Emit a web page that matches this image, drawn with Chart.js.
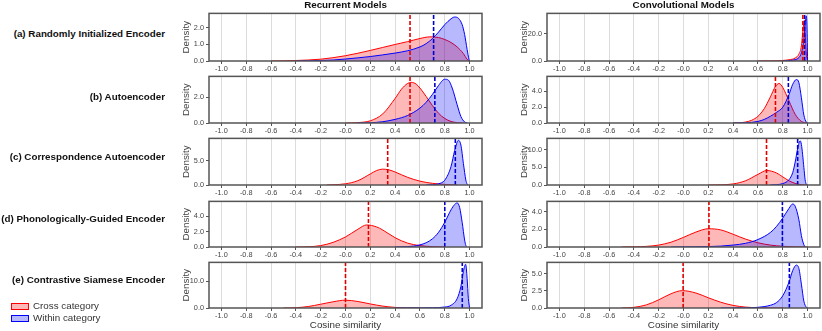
<!DOCTYPE html>
<html>
<head>
<meta charset="utf-8">
<script src="https://cdn.jsdelivr.net/npm/chart.js@4.4.0/dist/chart.umd.min.js"></script>
<style>
  body { margin: 0; width: 822px; height: 331px; background: #fff; position: relative; overflow: hidden;
         font-family: "Liberation Sans", Arial, sans-serif; }
  canvas { position: absolute; }
  .txt { position: absolute; white-space: nowrap; color: #222; line-height: 1; }
  .bold { font-weight: bold; font-size: 9.8px; color: #111; }
  .swatch { position: absolute; width: 16px; height: 5px; }
</style>
</head>
<body>
<script>
// titles / categories
const modelTypes = ["Recurrent Models", "Convolutional Models"];
const encoderNames = [
  "(a) Randomly Initialized Encoder",
  "(b) Autoencoder",
  "(c) Correspondence Autoencoder",
  "(d) Phonologically-Guided Encoder",
  "(e) Contrastive Siamese Encoder"
];
const seriesNames = ["Cross category", "Within category"];
const xTickValues = [-1.0, -0.8, -0.6, -0.4, -0.2, 0.0, 0.2, 0.4, 0.6, 0.8, 1.0];
const xTickLabels = ["-1.0", "-0.8", "-0.6", "-0.4", "-0.2", "-0.0", "0.2", "0.4", "0.6", "0.8", "1.0"];

// density curves: [cosine, density]
const recRandCross = [[-0.6,0],[-0.5,0.01],[-0.4,0.03],[-0.3,0.06],[-0.2,0.11],[-0.1,0.2],[0,0.32],[0.1,0.47],[0.2,0.64],[0.3,0.82],[0.4,1.0],[0.5,1.17],[0.6,1.36],[0.68,1.46],[0.75,1.42],[0.8,1.3],[0.85,1.12],[0.9,0.85],[0.95,0.45],[0.98,0.1],[1.0,0]];
const recRandWithin = [[-0.4,0],[-0.3,0.01],[-0.2,0.03],[-0.1,0.06],[0,0.12],[0.1,0.19],[0.2,0.27],[0.3,0.37],[0.4,0.48],[0.5,0.62],[0.6,0.85],[0.65,1.05],[0.7,1.35],[0.75,1.75],[0.8,2.2],[0.85,2.55],[0.88,2.66],[0.91,2.58],[0.94,2.2],[0.96,1.6],[0.98,0.7],[0.995,0.1],[1.0,0]];
const convRandCross = [[0.6,0],[0.7,0.1],[0.8,0.4],[0.85,0.9],[0.9,2.2],[0.93,5],[0.95,11],[0.96,20],[0.97,28],[0.975,30],[0.98,22],[0.99,5],[1.0,0]];
const convRandWithin = [[0.8,0],[0.85,0.3],[0.9,1.0],[0.93,2.5],[0.95,6],[0.97,16],[0.98,27],[0.99,33],[0.995,25],[1.0,0]];

const recAECross = [[0.0,0],[0.1,0.03],[0.2,0.17],[0.3,0.7],[0.4,1.9],[0.45,2.6],[0.5,3.05],[0.53,3.14],[0.57,3.0],[0.6,2.7],[0.65,2.05],[0.7,1.35],[0.75,0.75],[0.8,0.35],[0.85,0.12],[0.9,0.03],[0.95,0]];
const recAEWithin = [[0.1,0],[0.2,0.02],[0.3,0.1],[0.4,0.28],[0.5,0.58],[0.6,1.15],[0.65,1.6],[0.7,2.2],[0.75,2.9],[0.8,3.38],[0.83,3.3],[0.86,2.7],[0.9,1.4],[0.93,0.5],[0.96,0.08],[0.98,0]];
const convAECross = [[0.4,0],[0.45,0.03],[0.5,0.12],[0.55,0.35],[0.6,0.85],[0.65,1.8],[0.7,3.3],[0.74,4.6],[0.77,5.0],[0.8,4.5],[0.85,2.8],[0.9,1.1],[0.95,0.2],[1.0,0]];
const convAEWithin = [[0.4,0],[0.5,0.03],[0.6,0.2],[0.65,0.45],[0.7,0.85],[0.75,1.35],[0.8,2.0],[0.85,3.6],[0.88,4.9],[0.91,5.5],[0.93,5.1],[0.95,3.2],[0.97,1.0],[0.99,0.1],[1.0,0]];

const recCACross = [[-0.15,0],[-0.1,0.05],[0,0.25],[0.1,0.9],[0.2,2.3],[0.25,3.0],[0.3,3.3],[0.35,3.15],[0.4,2.7],[0.5,1.6],[0.6,0.8],[0.7,0.35],[0.8,0.12],[0.85,0.05],[0.9,0]];
const recCAWithin = [[0.65,0],[0.7,0.05],[0.75,0.25],[0.8,1.0],[0.85,3.8],[0.88,7.2],[0.91,9.3],[0.93,8.3],[0.95,4.5],[0.97,1.0],[0.98,0.2],[0.99,0]];
const convCACross = [[0.2,0],[0.3,0.05],[0.4,0.3],[0.5,1.2],[0.6,3.0],[0.67,4.1],[0.75,3.4],[0.8,2.3],[0.85,1.2],[0.9,0.45],[0.95,0.1],[1.0,0]];
const convCAWithin = [[0.7,0],[0.75,0.1],[0.8,0.4],[0.85,1.5],[0.88,3.5],[0.9,6.5],[0.92,10.3],[0.94,12.5],[0.95,11.5],[0.97,5],[0.98,1.5],[0.99,0.2],[1.0,0]];

const recPGCross = [[-0.4,0],[-0.3,0.03],[-0.2,0.18],[-0.1,0.6],[0,1.3],[0.1,2.3],[0.17,2.85],[0.25,2.6],[0.3,2.2],[0.4,1.2],[0.5,0.5],[0.6,0.18],[0.7,0.05],[0.8,0]];
const recPGWithin = [[0.4,0],[0.5,0.05],[0.55,0.12],[0.6,0.28],[0.65,0.55],[0.7,1.05],[0.75,1.9],[0.8,3.2],[0.85,4.8],[0.88,5.5],[0.9,5.7],[0.92,5.1],[0.94,3.2],[0.96,0.9],[0.97,0.2],[0.98,0]];
const convPGCross = [[-0.5,0],[-0.4,0.02],[-0.3,0.07],[-0.2,0.22],[-0.1,0.55],[0,1.1],[0.1,1.7],[0.2,2.08],[0.3,1.95],[0.4,1.45],[0.5,0.9],[0.6,0.48],[0.7,0.22],[0.8,0.08],[0.9,0.02],[1.0,0]];
const convPGWithin = [[-0.1,0],[0.1,0.02],[0.2,0.05],[0.3,0.1],[0.4,0.22],[0.5,0.42],[0.6,0.85],[0.7,1.65],[0.75,2.35],[0.8,3.3],[0.85,4.4],[0.88,4.9],[0.9,4.65],[0.93,3.1],[0.95,1.3],[0.97,0.25],[0.98,0]];

const recCSCross = [[-0.5,0],[-0.4,0.1],[-0.3,0.55],[-0.2,1.4],[-0.1,2.3],[0,2.9],[0.1,2.4],[0.2,1.5],[0.3,0.7],[0.4,0.22],[0.5,0.05],[0.6,0]];
const recCSWithin = [[0.4,0],[0.5,0.02],[0.6,0.05],[0.7,0.1],[0.8,0.35],[0.85,1.0],[0.9,3.5],[0.93,8],[0.95,13.5],[0.968,16.2],[0.98,11],[0.99,3.5],[1.0,0]];
const convCSCross = [[-0.5,0],[-0.4,0.1],[-0.3,0.45],[-0.2,1.2],[-0.1,2.1],[-0.01,2.55],[0.1,2.2],[0.2,1.5],[0.3,0.85],[0.4,0.38],[0.5,0.13],[0.6,0.04],[0.7,0.01],[0.8,0]];
const convCSWithin = [[0.3,0],[0.5,0.02],[0.6,0.1],[0.7,0.4],[0.75,0.8],[0.8,1.8],[0.85,3.8],[0.88,5.5],[0.91,6.3],[0.93,5.8],[0.95,3.5],[0.97,1.0],[0.99,0.1],[1.0,0]];

// mean lines (dashed)
const recCrossMeans = [0.52, 0.52, 0.34, 0.185, 0.0];
const recWithinMeans = [0.71, 0.72, 0.885, 0.8, 0.941];
const convCrossMeans = [0.962, 0.741, 0.669, 0.205, -0.003];
const convWithinMeans = [0.976, 0.845, 0.92, 0.797, 0.853];

// y axis ranges and ticks
const recYMax = [2.88, 3.6, 9.7, 5.9, 16.9];
const convYMax = [34.8, 5.9, 13.2, 5.2, 6.7];
const recYTicks = [[0, 1, 2], [0, 2], [0, 5], [0, 2, 4], [0, 10]];
const convYTicks = [[0, 20], [0, 2, 4], [0, 5, 10], [0, 2, 4], [0, 2.5, 5]];

const recCross = [recRandCross, recAECross, recCACross, recPGCross, recCSCross];
const recWithin = [recRandWithin, recAEWithin, recCAWithin, recPGWithin, recCSWithin];
const convCross = [convRandCross, convAECross, convCACross, convPGCross, convCSCross];
const convWithin = [convRandWithin, convAEWithin, convCAWithin, convPGWithin, convCSWithin];

// layout (pixels)
const plotLeft = [209, 547];
const plotRight = [482, 820];
const plotTop = [10, 73, 135, 198, 259];
const plotBottom = [61, 123, 185, 247, 308];
const labelY = [34, 96.7, 156.7, 219, 280];

const RED = "rgba(255,0,0,0.28)";
const BLUE = "rgba(0,0,255,0.28)";

const framePlugin = {
  id: "frame",
  afterDraw(chart) {
    const { ctx, chartArea: a } = chart;
    ctx.save();
    ctx.strokeStyle = "#555";
    ctx.lineWidth = 1.5;
    ctx.strokeRect(a.left, a.top, a.right - a.left, a.bottom - a.top);
    ctx.restore();
  }
};

function addText(text, cls, style) {
  const d = document.createElement("div");
  d.className = "txt " + cls;
  d.textContent = text;
  Object.assign(d.style, style);
  document.body.appendChild(d);
  return d;
}

function toXY(pts) {
  return pts.map(([x, y]) => ({ x, y }));
}

function makePanel(row, col, crossPts, withinPts, crossMean, withinMean, yMax, yTicks) {
  const yAxisW = 29, xAxisH = 14, padTop = 3, padRight = 2;
  const left = plotLeft[col] - yAxisW;
  const top = plotTop[row] - padTop;
  const width = plotRight[col] + padRight - left;
  const height = plotBottom[row] - plotTop[row] + padTop + xAxisH;

  const canvas = document.createElement("canvas");
  canvas.width = width;
  canvas.height = height;
  canvas.style.left = left + "px";
  canvas.style.top = top + "px";
  document.body.appendChild(canvas);

  const meanLine = (m, color) => ({
    data: [{ x: m, y: 0 }, { x: m, y: yMax }],
    borderColor: color,
    borderWidth: 1.6,
    borderDash: [4, 2],
    pointRadius: 0,
    fill: false
  });
  const curve = (pts, line, fillColor) => ({
    data: toXY(pts),
    borderColor: line,
    backgroundColor: fillColor,
    borderWidth: 1,
    pointRadius: 0,
    fill: "origin",
    cubicInterpolationMode: "monotone"
  });

  new Chart(canvas.getContext("2d"), {
    type: "line",
    data: {
      datasets: [
        meanLine(crossMean, "#e00000"),
        meanLine(withinMean, "#0000cc"),
        curve(withinPts, "#0000ff", BLUE),
        curve(crossPts, "#ff0000", RED)
      ]
    },
    options: {
      responsive: false,
      animation: false,
      events: [],
      layout: { padding: { top: padTop, right: padRight, left: 0, bottom: 0 } },
      plugins: { legend: { display: false }, tooltip: { enabled: false } },
      scales: {
        x: {
          type: "linear",
          min: -1.1,
          max: 1.1,
          afterBuildTicks: (s) => { s.ticks = xTickValues.map((v) => ({ value: v })); },
          afterFit: (s) => { s.height = xAxisH; },
          ticks: {
            autoSkip: false,
            maxRotation: 0,
            padding: 1,
            color: "#444",
            font: { size: 7.3, family: "Liberation Sans" },
            callback: (v) => {
              const i = xTickValues.findIndex((t) => Math.abs(t - v) < 1e-6);
              return i >= 0 ? xTickLabels[i] : "";
            }
          },
          grid: { color: "#dcdcdc", lineWidth: 1, tickColor: "#555", tickLength: 3 },
          border: { display: false }
        },
        y: {
          min: 0,
          max: yMax,
          afterBuildTicks: (s) => { s.ticks = yTicks.map((v) => ({ value: v })); },
          afterFit: (s) => { s.width = yAxisW; },
          ticks: {
            padding: 2,
            color: "#444",
            font: { size: 7.3, family: "Liberation Sans" },
            callback: (v) => Number(v).toFixed(1)
          },
          grid: { drawOnChartArea: false, tickColor: "#555", tickLength: 3 },
          border: { display: false },
          title: {
            display: true,
            text: "Density",
            color: "#444",
            font: { size: 9.8, family: "Liberation Sans" },
            padding: { top: 0, bottom: 0 }
          }
        }
      }
    },
    plugins: [framePlugin]
  });
}

for (let r = 0; r < encoderNames.length; r++) {
  makePanel(r, 0, recCross[r], recWithin[r], recCrossMeans[r], recWithinMeans[r], recYMax[r], recYTicks[r]);
  makePanel(r, 1, convCross[r], convWithin[r], convCrossMeans[r], convWithinMeans[r], convYMax[r], convYTicks[r]);
  addText(encoderNames[r], "bold", { right: (822 - 165) + "px", top: (labelY[r] - 5) + "px" });
}

// column titles and x axis labels
modelTypes.forEach((t, c) => {
  const cx = (plotLeft[c] + plotRight[c]) / 2;
  const el = addText(t, "bold", { top: "0px", left: cx + "px", transform: "translateX(-50%)" });
  const xl = addText("Cosine similarity", "", { top: "320px", left: cx + "px", transform: "translateX(-50%)", fontSize: "9.8px", color: "#333" });
});

// legend
const legendY = [305.7, 317.7];
const legendFill = ["rgba(255,0,0,0.28)", "rgba(0,0,255,0.28)"];
const legendLine = ["#ff0000", "#0000ff"];
seriesNames.forEach((name, i) => {
  const sw = document.createElement("div");
  sw.className = "swatch";
  Object.assign(sw.style, {
    left: "11px", top: (legendY[i] - 3) + "px",
    background: legendFill[i], border: "1px solid " + legendLine[i]
  });
  document.body.appendChild(sw);
  addText(name, "", { left: "33px", top: (legendY[i] - 5) + "px", fontSize: "9.8px", color: "#333" });
});
</script>
</body>
</html>
